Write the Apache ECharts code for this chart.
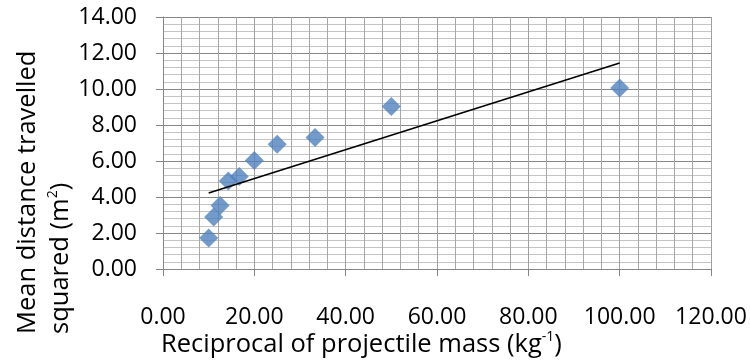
<!DOCTYPE html>
<html>
<head>
<meta charset="utf-8">
<script src="https://cdn.jsdelivr.net/npm/echarts@6/dist/echarts.min.js"></script>
<style>
  html, body { margin: 0; padding: 0; background: #fff; }
  #main { width: 750px; height: 363px; }
</style>
</head>
<body>
<div id="main"></div>
<script>
// reciprocal of projectile mass (kg^-1)
const reciprocalMass = [10, 11.1, 12.5, 14.3, 16.7, 20, 25, 33.3, 50, 100];
// mean distance travelled squared (m^2)
const distSquared = [1.72, 2.89, 3.53, 4.89, 5.14, 6.03, 6.93, 7.31, 9.03, 10.06];
// linear trendline end points
const trendX = [10, 100];
const trendY = [4.22, 11.44];

const FONT = '"Open Sans", sans-serif';
const TITLE_SIZE = 25.5;
const LABEL_SIZE = 23;

const points = reciprocalMass.map((x, i) => [x, distSquared[i]]);
const trend = trendX.map((x, i) => [x, trendY[i]]);

const chart = echarts.init(document.getElementById('main'));

// rich styles for titles with superscripts
const titleRich = {
    a: { fontFamily: FONT, fontSize: TITLE_SIZE, fill: '#000', lineHeight: 30 },
    s: { fontFamily: FONT, fontSize: 14, fill: '#000', verticalAlign: 'top', lineHeight: 30 }
};

const option = {
    animation: false,
    grid: { left: 163, right: 39, top: 17, bottom: 94 },
    xAxis: {
        type: 'value',
        min: 0,
        max: 120,
        interval: 20,
        axisLine: { lineStyle: { color: '#868686' } },
        axisTick: { show: true, inside: false, length: 7, lineStyle: { color: '#868686' } },
        axisLabel: {
            margin: 37,
            color: '#000',
            fontFamily: FONT,
            fontSize: LABEL_SIZE,
            formatter: v => v.toFixed(2)
        },
        splitLine: { lineStyle: { color: '#a0a0a0', width: 1 } },
        minorTick: { show: false, splitNumber: 5 },
        minorSplitLine: { show: true, lineStyle: { color: '#a6a6a6', width: 1 } }
    },
    yAxis: {
        type: 'value',
        min: 0,
        max: 14,
        interval: 2,
        axisLine: { show: true, lineStyle: { color: '#868686' } },
        axisTick: { show: true, inside: false, length: 7, lineStyle: { color: '#868686' } },
        axisLabel: {
            margin: 26,
            color: '#000',
            fontFamily: FONT,
            fontSize: LABEL_SIZE,
            formatter: v => v.toFixed(2)
        },
        splitLine: { lineStyle: { color: '#868686', width: 1 } },
        minorTick: { show: false, splitNumber: 5 },
        minorSplitLine: { show: true, lineStyle: { color: '#c4c4c4', width: 1 } }
    },
    series: [
        {
            name: 'data',
            type: 'scatter',
            symbol: 'diamond',
            symbolSize: [19, 19],
            itemStyle: { color: '#4f81bd' },
            data: points,
            z: 2
        },
        {
            name: 'trend',
            type: 'line',
            data: trend,
            symbol: 'none',
            lineStyle: { color: '#000', width: 1.6 },
            z: 3
        }
    ],
    graphic: [
        {
            type: 'text',
            left: 161,
            top: 330,
            style: {
                text: '{a|Reciprocal of projectile mass (kg}{s|-1}{a|)}',
                rich: titleRich
            }
        },
        {
            type: 'text',
            x: 28,
            y: 334,
            rotation: Math.PI / 2,
            style: {
                text: 'Mean distance travelled',
                font: TITLE_SIZE + 'px ' + FONT,
                fill: '#000',
                align: 'left',
                verticalAlign: 'middle'
            }
        },
        {
            type: 'text',
            x: 61,
            y: 334,
            rotation: Math.PI / 2,
            style: {
                text: '{a|squared (m}{s|2}{a|)}',
                align: 'left',
                verticalAlign: 'middle',
                rich: titleRich
            }
        }
    ]
};

chart.setOption(option);

window.addEventListener('resize', function () {
    chart.resize();
});
</script>
</body>
</html>
